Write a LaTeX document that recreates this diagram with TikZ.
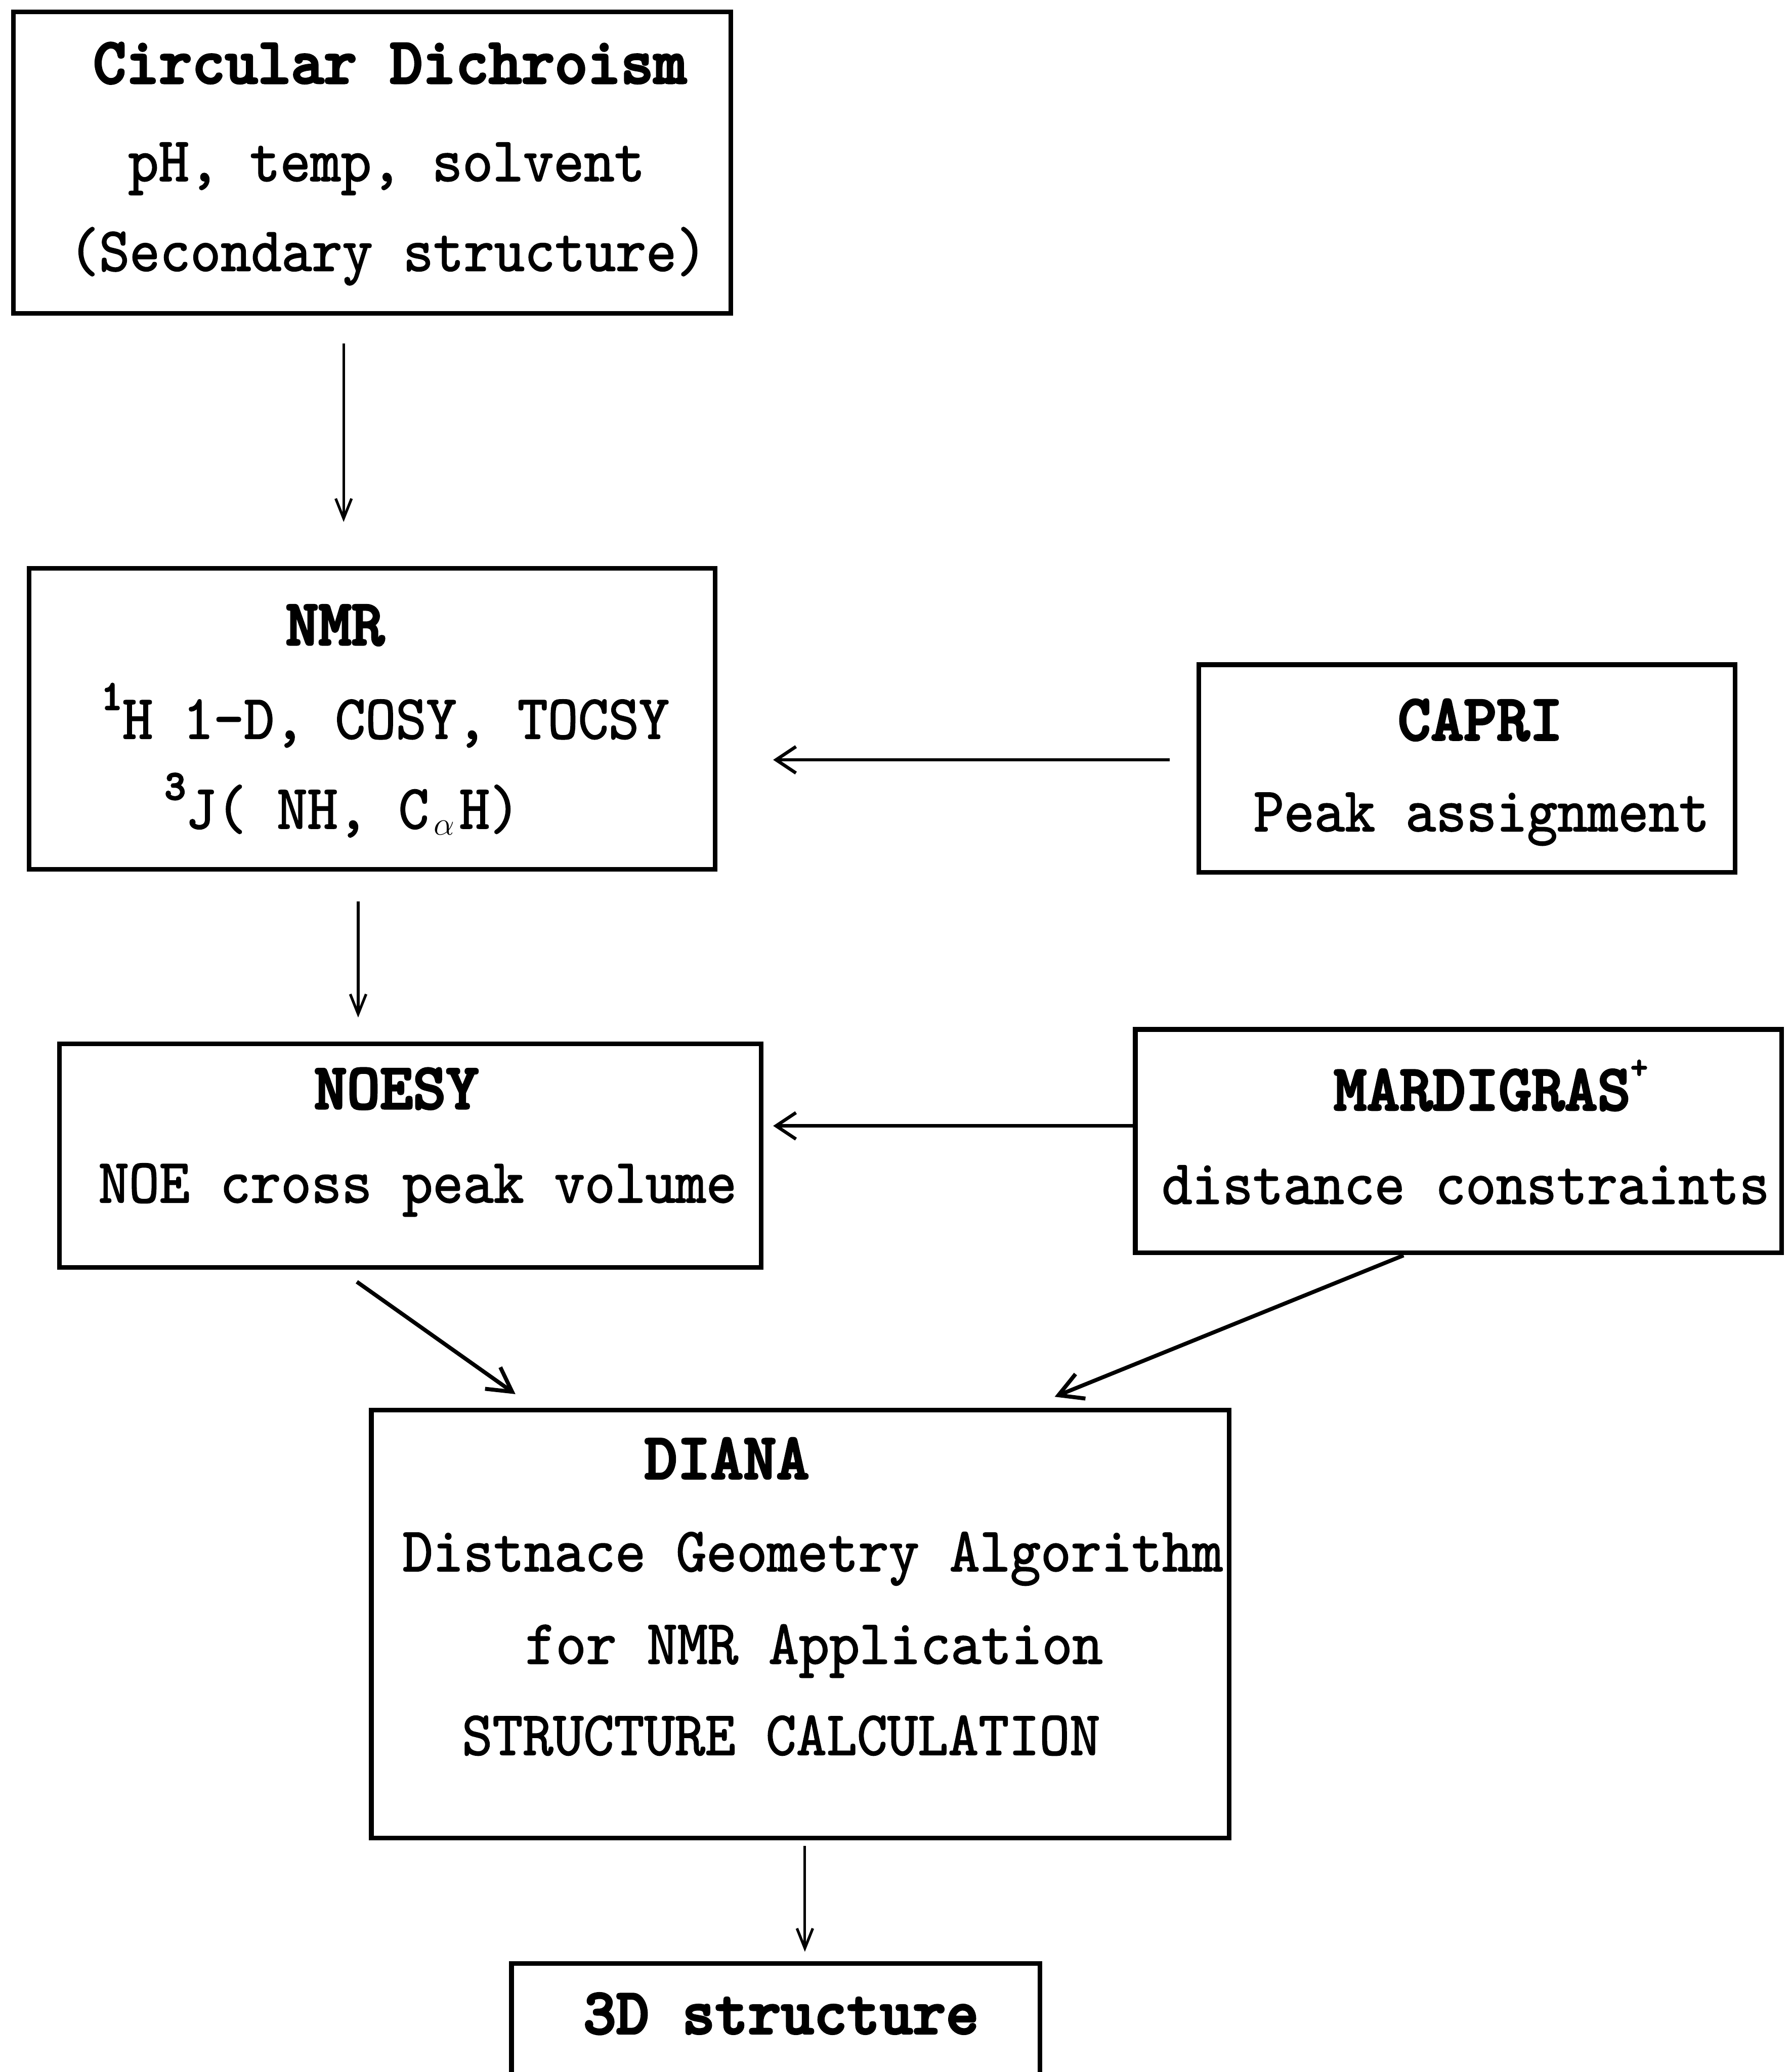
\documentclass[tikz,border=0pt]{standalone}
\usepackage{fontspec}
\usetikzlibrary{arrows.meta}
\newfontfamily\rfont{lmmono10-regular.otf}[FakeStretch=0.92,FakeBold=1.5]
\newfontfamily\bfont{lmmonolt10-bold.otf}[FakeStretch=0.96,FakeBold=3]
\newcommand\mysup[1]{\raisebox{22pt}{\bfont\fontsize{32}{32}\selectfont #1}}
\newcommand\myalpha{\makebox[23pt]{\raisebox{-5pt}{\fontsize{38}{38}\selectfont$\alpha$}}}
\tikzset{
  box/.style={draw, line width=3.5pt, inner sep=0pt, outer sep=0pt, rectangle},
  reg/.style={inner sep=0pt, anchor=base, font=\rfont\fontsize{47.6}{48}\selectfont},
  hd/.style={inner sep=0pt, anchor=base, font=\bfont\fontsize{49.5}{50}\selectfont},
  thinarr/.style={line width=2pt, -{Straight Barb[length=15pt,width=12pt]}},
  midarr/.style={line width=2.5pt, -{Straight Barb[length=15pt,width=20pt]}},
  diagarr/.style={line width=3pt, -{Straight Barb[length=18pt,width=20pt]}}
}
\begin{document}
\begin{tikzpicture}[x=1pt,y=-1pt]
\clip (0,0) rectangle (1355,1568);
\fill[white] (0,0) rectangle (1355,1568);
% boxes
\node[box, minimum width=543pt, minimum height=228pt] (cd) at (281.5,123) {};
\node[box, minimum width=519pt, minimum height=228pt] (nmr) at (281.5,544) {};
\node[box, minimum width=406pt, minimum height=157pt] (capri) at (1110,581.5) {};
\node[box, minimum width=531pt, minimum height=169pt] (noesy) at (310.5,874.5) {};
\node[box, minimum width=489pt, minimum height=169pt] (mard) at (1103.5,863.5) {};
\node[box, minimum width=649pt, minimum height=324pt] (diana) at (605.5,1229) {};
\node[box, minimum width=400pt, minimum height=140pt] (three) at (587,1556) {};
% texts
\node[hd] (cdt) at (295,63) {Circular Dichroism};
\node[reg] (cd2) at (292.5,137) {pH, temp, solvent};
\node[reg] (cd3) at (293.5,205) {(Secondary structure)};
\node[hd] (nmrt) at (253.5,488) {NMR};
\node[reg] (nmr2) at (291.5,559) {\mysup{1}H 1-D, COSY, TOCSY};
\node[reg] (nmr3) at (259,627) {\mysup{3}J( NH, C\myalpha H)};
\node[hd] (caprit) at (1120,560) {CAPRI};
\node[reg] (capri2) at (1121,629) {Peak assignment};
\node[hd] (noesyt) at (300,839) {NOESY};
\node[reg] (noesy2) at (316,910) {NOE cross peak volume};
\node[hd] (mardt) at (1128,840) {MARDIGRAS\raisebox{24pt}{\fontsize{26}{26}\selectfont +}};
\node[reg] (mard2) at (1109,911) {distance constraints};
\node[hd] (dianat) at (550,1119) {DIANA};
\node[reg] (diana2) at (615,1189) {Distnace Geometry Algorithm};
\node[reg] (diana3) at (616,1259) {for NMR Application};
\node[reg] (diana4) at (591,1328) {STRUCTURE CALCULATION};
\node[hd] (threet) at (591,1539) {3D structure};
% arrows
\draw[thinarr] ([xshift=-21.5pt,yshift=-23pt]cd.south) -- ([xshift=-21.5pt,yshift=35pt]nmr.north);
\draw[thinarr] ([xshift=-10.5pt,yshift=-24pt]nmr.south) -- ([xshift=-39.5pt,yshift=20pt]noesy.north);
\draw[midarr] ([xshift=-22pt,yshift=6.5pt]capri.west) -- ([xshift=44pt,yshift=-31pt]nmr.east);
\draw[midarr] ([yshift=11.5pt]mard.west) -- ([xshift=9pt,yshift=22.5pt]noesy.east);
\draw[diagarr] ([xshift=-40.5pt,yshift=-11pt]noesy.south) -- ([xshift=-215.5pt,yshift=12pt]diana.north);
\draw[diagarr] ([xshift=-41.5pt,yshift=-2pt]mard.south) -- ([xshift=192.5pt,yshift=10pt]diana.north);
\draw[thinarr] ([xshift=3.5pt,yshift=-6pt]diana.south) -- ([xshift=22pt,yshift=9pt]three.north);
\end{tikzpicture}
\end{document}
